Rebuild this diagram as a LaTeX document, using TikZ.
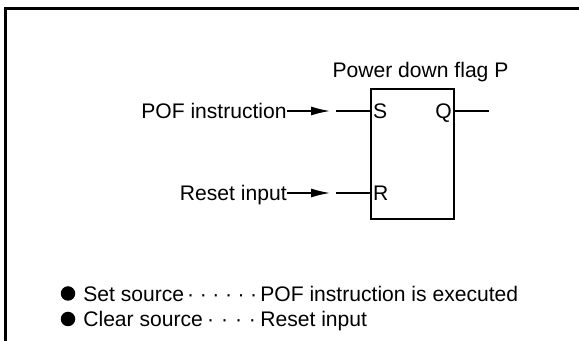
\documentclass[tikz,border=0pt]{standalone}
\usepackage{fontspec}
\setmainfont{Liberation Sans}
\usetikzlibrary{arrows.meta,positioning}
\newcommand{\leaderdots}{\xleaders\hbox to 0.24cm{\hss·\hss}\hfill}

\begin{document}
\begin{tikzpicture}[every node/.style={font=\fontsize{12}{14}\selectfont,inner sep=0pt,text depth=0pt},
  pin/.style={inner sep=1.5pt},
  feed/.style={-{Latex[length=3.8mm,width=1.8mm]}},
  dot/.style={circle,fill,minimum size=0.29cm}]
\useasboundingbox (0,0) rectangle (11.58,6.82);
% frame
\draw[line width=1.7pt] (0.11,0) -- (0.11,6.65) -- (11.58,6.65);
% flag
\node[draw,line width=1pt,minimum width=1.66cm,minimum height=2.6cm] (flag) at (8.25,3.74){};
\node at (8.41,5.42) (title){Power down flag P};
\node[pin,anchor=west] (s) at (flag.west |- 0,4.60){S};
\node[pin,anchor=west] (r) at (flag.west |- 0,2.96){R};
\node[pin,anchor=east] (q) at (flag.east |- 0,4.60){Q};
\coordinate (qout) at (9.78,4.60);
\draw[line width=0.8pt] (q.east) -- (qout);
% inputs
\node[anchor=east] (pof) at (5.74,4.60){POF instruction};
\node[anchor=east] (rst) at (5.74,2.96){Reset input};
\coordinate (pofhead) at (6.60,4.60);
\coordinate (poftail) at (6.72,4.60);
\coordinate (rsthead) at (6.60,2.96);
\coordinate (rsttail) at (6.72,2.96);
\draw[feed,line width=0.8pt] (pof.east) -- (pofhead);
\draw[line width=0.8pt] (poftail) -- (s.west);
\draw[feed,line width=0.8pt] (rst.east) -- (rsthead);
\draw[line width=0.8pt] (rsttail) -- (r.west);
% sources
\node[anchor=west] (setsrc) at (1.66,0.95){\makebox[3.54cm][l]{Set source\leaderdots}POF instruction is executed};
\node[anchor=west] (clrsrc) at (1.66,0.44){\makebox[3.54cm][l]{Clear source\leaderdots}Reset input};
\node[dot] (b1) at (1.36,0.95){};
\node[dot] (b2) at (1.36,0.44){};
\end{tikzpicture}
\end{document}
